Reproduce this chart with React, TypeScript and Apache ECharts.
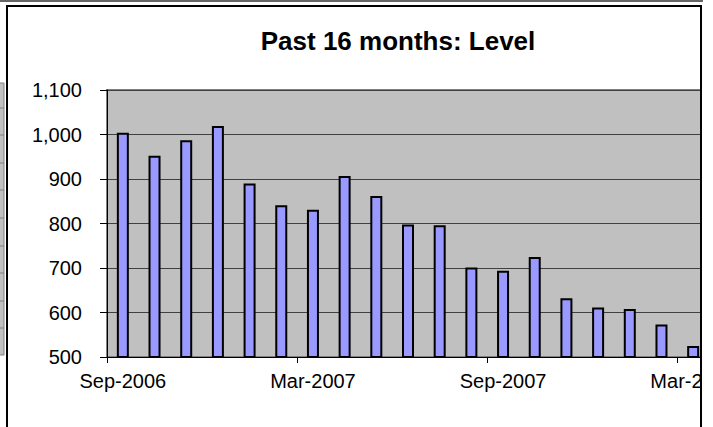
import React, { useEffect, useRef } from "react";
import * as echarts from "echarts";

const categories = [
  "Sep-2006", "Oct-2006", "Nov-2006", "Dec-2006", "Jan-2007", "Feb-2007",
  "Mar-2007", "Apr-2007", "May-2007", "Jun-2007", "Jul-2007", "Aug-2007",
  "Sep-2007", "Oct-2007", "Nov-2007", "Dec-2007", "Jan-2008", "Feb-2008",
  "Mar-2008",
];
const levels = [
  1004, 952, 987, 1019, 890, 841, 831, 907, 862, 798, 796, 701, 694, 725,
  632, 611, 608, 573, 525,
];
const yMin = 500;
const yMax = 1100;
const yStep = 100;
const titleText = "Past 16 months: Level";

const FONT = "'Liberation Sans', Arial, sans-serif";

export default function App() {
  const ref = useRef<HTMLDivElement>(null);
  useEffect(() => {
    if (!ref.current) return;
    const chart = echarts.init(ref.current, undefined, { renderer: "svg" });
    const stubLines = [108, 135, 163, 190, 218, 246, 273, 301, 328];
    chart.setOption({
      animation: false,
      backgroundColor: "#ffffff",
      title: {
        text: titleText,
        left: 398,
        top: 28,
        textAlign: "center",
        padding: 0,
        textStyle: { fontSize: 26, fontWeight: "bold", fontFamily: FONT, color: "#000" },
      },
      grid: {
        left: 107,
        top: 90,
        width: 602,
        height: 267,
        show: true,
        backgroundColor: "#C0C0C0",
        borderColor: "#808080",
        borderWidth: 2,
        containLabel: false,
        outerBoundsMode: "none",
      },
      xAxis: {
        type: "category",
        data: categories,
        boundaryGap: true,
        axisLine: { show: true, lineStyle: { color: "#000", width: 1 } },
        axisTick: { show: true, interval: 5, length: 6, lineStyle: { color: "#000" } },
        axisLabel: {
          interval: 5,
          margin: 14,
          fontSize: 20,
          fontFamily: FONT,
          color: "#000",
          hideOverlap: false,
        },
        splitLine: { show: false },
      },
      yAxis: {
        type: "value",
        min: yMin,
        max: yMax,
        interval: yStep,
        axisLine: { show: true, lineStyle: { color: "#000", width: 1 } },
        axisTick: { show: true, length: 7, lineStyle: { color: "#000" } },
        axisLabel: {
          margin: 25,
          fontSize: 20,
          fontFamily: FONT,
          color: "#000",
          formatter: (v: number) => v.toLocaleString("en-US"),
        },
        splitLine: { show: true, lineStyle: { color: "#404040", width: 1 } },
      },
      series: [
        {
          type: "bar",
          data: levels,
          barWidth: 12,
          itemStyle: { color: "#9999FF", borderColor: "#000", borderWidth: 2 },
        },
      ],
      graphic: [
        { type: "rect", z: 100, shape: { x: 702, y: 0, width: 20, height: 427 }, style: { fill: "#fff" } },
        { type: "rect", z: 100, shape: { x: 0, y: 0, width: 8, height: 427 }, style: { fill: "#fff" } },
        { type: "rect", z: 101, shape: { x: 0, y: 0, width: 703, height: 2 }, style: { fill: "#666" } },
        { type: "rect", z: 101, shape: { x: 7, y: 5, width: 695, height: 2 }, style: { fill: "#000" } },
        { type: "rect", z: 101, shape: { x: 6, y: 5, width: 2, height: 422 }, style: { fill: "#000" } },
        { type: "rect", z: 101, shape: { x: 700, y: 5, width: 2, height: 422 }, style: { fill: "#000" } },
        {
          type: "rect",
          z: 101,
          shape: { x: -2, y: 83, width: 6, height: 272 },
          style: { fill: "#C0C0C0", stroke: "#808080", lineWidth: 1 },
        },
        ...stubLines.map((y) => ({
          type: "line",
          z: 102,
          shape: { x1: 0, y1: y, x2: 4, y2: y },
          style: { stroke: "#808080", lineWidth: 1 },
        })),
      ],
    });
    return () => chart.dispose();
  }, []);
  return (
    <div
      ref={ref}
      style={{ position: "fixed", left: 0, top: 0, width: 713, height: 427 }}
    />
  );
}
